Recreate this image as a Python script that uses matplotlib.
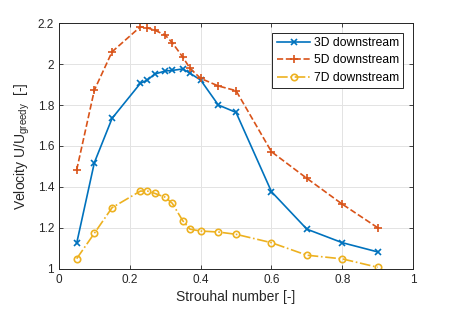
import matplotlib.pyplot as plt
import numpy as np

plt.rcParams['font.family'] = ['Liberation Sans', 'DejaVu Sans']
plt.rcParams['mathtext.fontset'] = 'custom'
plt.rcParams['mathtext.rm'] = 'Liberation Sans'

# Strouhal cisla
strouhal = [0.05, 0.1, 0.15, 0.23, 0.25, 0.27, 0.3, 0.32, 0.35, 0.37,
            0.4, 0.45, 0.5, 0.6, 0.7, 0.8, 0.9]
# rychlosti U/U_greedy
v3d = [1.125, 1.519, 1.735, 1.906, 1.922, 1.951, 1.966, 1.969, 1.976, 1.955,
       1.922, 1.800, 1.764, 1.377, 1.194, 1.128, 1.083]
v5d = [1.483, 1.873, 2.060, 2.182, 2.176, 2.166, 2.141, 2.104, 2.033, 1.979,
       1.930, 1.893, 1.870, 1.572, 1.442, 1.316, 1.201]
v7d = [1.050, 1.174, 1.299, 1.380, 1.380, 1.369, 1.350, 1.320, 1.234, 1.194,
       1.185, 1.180, 1.169, 1.128, 1.067, 1.049, 1.008]

fig = plt.figure(figsize=(4.57, 3.16), dpi=100)
ax = fig.add_axes([0.129, 0.149, 0.775, 0.778])

ax.plot(strouhal, v3d, '-x', color='#0072BD', lw=1.2, ms=3.8, mew=1.2,
        label='3D downstream')
ax.plot(strouhal, v5d, '--+', color='#D95319', lw=1.2, ms=5.2, mew=1.2,
        label='5D downstream')
ax.plot(strouhal, v7d, '-.o', color='#EDB120', lw=1.2, ms=4.6, mew=1.2,
        mfc='none', label='7D downstream')

ax.set_xlim(0, 1)
ax.set_ylim(1, 2.2)
ax.set_xticks(np.arange(0, 1.01, 0.2))
ax.set_xticklabels(['0', '0.2', '0.4', '0.6', '0.8', '1'])
ax.set_yticks(np.arange(1, 2.21, 0.2))
ax.set_yticklabels(['1', '1.2', '1.4', '1.6', '1.8', '2', '2.2'])
ax.grid(True, color='#e3e3e3', lw=0.7)
ax.set_axisbelow(True)
ax.tick_params(direction='in', top=True, right=True, labelsize=8.5,
               colors='#262626', length=3, width=0.6)
for s in ax.spines.values():
    s.set_color('#262626')
    s.set_linewidth(0.7)

ax.set_xlabel('Strouhal number [-]', fontsize=10, color='#262626', labelpad=3)
ax.set_ylabel(r'Velocity U/U$_{\mathrm{greedy}}$  [-]', fontsize=10,
              color='#262626', labelpad=4)

leg = ax.legend(loc='upper right', fontsize=8.7, fancybox=False,
                edgecolor='#262626', framealpha=1, borderaxespad=0.8,
                handlelength=2.8, borderpad=0.35, labelspacing=0.45,
                handletextpad=0.3)
leg.get_frame().set_linewidth(0.7)

fig.savefig('out.png', dpi=100)
